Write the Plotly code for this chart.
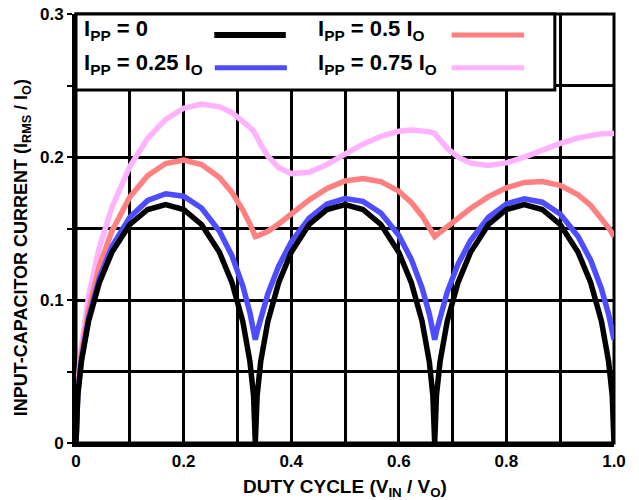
import plotly.graph_objects as go

# ---- data ----
duty = [0, 0.0033, 0.01, 0.0233, 0.0433, 0.0667, 0.1, 0.1333, 0.1667, 0.2, 0.2333, 0.2667, 0.29, 0.31, 0.3233, 0.33, 0.3333,
        0.3367, 0.3433, 0.3567, 0.3767, 0.4, 0.4333, 0.4667, 0.5, 0.5333, 0.5667, 0.6, 0.6233, 0.6433, 0.6567, 0.6633, 0.6667,
        0.67, 0.6767, 0.69, 0.71, 0.7333, 0.7667, 0.8, 0.8333, 0.8667, 0.9, 0.9333, 0.9567, 0.9767, 0.99, 0.9967, 1.0]

i_pp_0 = [0, 0.0332, 0.0569, 0.0851, 0.1121, 0.1333, 0.1528, 0.1633, 0.1667, 0.1633, 0.1528, 0.1333, 0.1121, 0.0851, 0.0569, 0.0332, 0,
          0.0332, 0.0569, 0.0851, 0.1121, 0.1333, 0.1528, 0.1633, 0.1667, 0.1633, 0.1528, 0.1333, 0.1121, 0.0851, 0.0569, 0.0332, 0,
          0.0332, 0.0569, 0.0851, 0.1121, 0.1333, 0.1528, 0.1633, 0.1667, 0.1633, 0.1528, 0.1333, 0.1121, 0.0851, 0.0569, 0.0332, 0]

i_pp_025 = [0, 0.0339, 0.0582, 0.0872, 0.1151, 0.1372, 0.1578, 0.1696, 0.1743, 0.1726, 0.1643, 0.1481, 0.1308, 0.1099, 0.0910, 0.0791, 0.0722,
            0.0778, 0.0878, 0.1044, 0.1237, 0.1405, 0.1572, 0.1671, 0.1710, 0.1690, 0.1608, 0.1452, 0.1284, 0.1083, 0.0902, 0.0788, 0.0722,
            0.0781, 0.0886, 0.1056, 0.1250, 0.1416, 0.1579, 0.1672, 0.1707, 0.1684, 0.1601, 0.1444, 0.1278, 0.1078, 0.0899, 0.0787, 0.0722]

i_pp_05 = [0, 0.0362, 0.0621, 0.0932, 0.1236, 0.1481, 0.1720, 0.1871, 0.1954, 0.1979, 0.1947, 0.1856, 0.1752, 0.1631, 0.1531, 0.1474, 0.1443,
           0.1446, 0.1455, 0.1480, 0.1532, 0.1602, 0.1700, 0.1780, 0.1832, 0.1850, 0.1828, 0.1761, 0.1682, 0.1588, 0.1511, 0.1467, 0.1443,
           0.1453, 0.1473, 0.1513, 0.1573, 0.1640, 0.1723, 0.1785, 0.1822, 0.1829, 0.1802, 0.1735, 0.1661, 0.1575, 0.1505, 0.1465, 0.1443]

i_pp_075 = [0, 0.0396, 0.0681, 0.1025, 0.1366, 0.1648, 0.1934, 0.2131, 0.2263, 0.2341, 0.2370, 0.2351, 0.2310, 0.2255, 0.2207, 0.2180, 0.2165,
            0.2138, 0.2087, 0.2006, 0.1925, 0.1884, 0.1893, 0.1948, 0.2020, 0.2090, 0.2145, 0.2180, 0.2189, 0.2185, 0.2176, 0.2169, 0.2165,
            0.2148, 0.2116, 0.2061, 0.2000, 0.1957, 0.1940, 0.1959, 0.1999, 0.2048, 0.2095, 0.2134, 0.2153, 0.2163, 0.2165, 0.2165, 0.2165]

x_tick_vals = [0, 0.2, 0.4, 0.6, 0.8, 1.0]
x_tick_text = ["0", "0.2", "0.4", "0.6", "0.8", "1.0"]
x_minor_vals = [0.1, 0.3, 0.5, 0.7, 0.9]
y_tick_vals = [0, 0.1, 0.2, 0.3]
y_tick_text = ["0", "0.1", "0.2", "0.3"]
y_minor_vals = [0.05, 0.15, 0.25]

series_names = ["I<sub>PP</sub> = 0", "I<sub>PP</sub> = 0.25 I<sub>O</sub>",
                "I<sub>PP</sub> = 0.5 I<sub>O</sub>", "I<sub>PP</sub> = 0.75 I<sub>O</sub>"]
series_values = [i_pp_0, i_pp_025, i_pp_05, i_pp_075]
colors = ["#000000", "#4d4dff", "#ff8080", "#ffb3ff"]

FONT = "Liberation Sans, Arial, Helvetica, sans-serif"

fig = go.Figure()
# draw in order so black sits on top (as in the reference)
for idx in [3, 2, 1, 0]:
    fig.add_trace(go.Scatter(x=duty, y=series_values[idx], mode="lines", name=series_names[idx],
                             line=dict(color=colors[idx], width=5.5), hoverinfo="skip"))

fig.update_layout(
    width=639, height=500,
    margin=dict(l=76, r=25, t=14, b=57),
    plot_bgcolor="white", paper_bgcolor="white",
    showlegend=False,
    font=dict(family=FONT, color="black", size=17, weight="bold"),
)
fig.update_xaxes(
    range=[0, 1], tickmode="array", tickvals=x_tick_vals, ticktext=x_tick_text,
    showgrid=True, gridcolor="black", gridwidth=2.5, zeroline=False, automargin=False,
    showline=True, linecolor="black", linewidth=4, ticks="",
    minor=dict(tickmode="array", tickvals=x_minor_vals, showgrid=True, gridcolor="black", gridwidth=2.5, ticks=""),
    tickfont=dict(size=17, family=FONT, weight="bold"),
    title=dict(text="DUTY CYCLE (V<sub>IN</sub> / V<sub>O</sub>)", font=dict(size=19, family=FONT, weight="bold"), standoff=10),
)
fig.update_yaxes(
    range=[0, 0.3], tickmode="array", tickvals=y_tick_vals, ticktext=y_tick_text,
    showgrid=True, gridcolor="black", gridwidth=2.5, zeroline=False, automargin=False,
    showline=True, linecolor="black", linewidth=4, ticks="outside", ticklen=5, tickwidth=2, tickcolor="black",
    minor=dict(tickmode="array", tickvals=y_minor_vals, showgrid=True, gridcolor="black", gridwidth=2.5,
               ticks="outside", ticklen=5, tickwidth=2, tickcolor="black"),
    tickfont=dict(size=17, family=FONT, weight="bold"),
)

# y-axis title as a rotated annotation, nudged down to sit centred on the plot area like the reference
fig.add_annotation(xref="paper", yref="paper", x=-0.099, y=0.5, xanchor="center", yanchor="middle",
                   textangle=-90, showarrow=False, yshift=-19,
                   text="INPUT-CAPACITOR CURRENT (I<sub>RMS</sub> / I<sub>O</sub>)",
                   font=dict(size=18, family=FONT, color="black", weight="bold"))

# plot frame (top / right edges)
fig.add_shape(type="rect", xref="paper", yref="paper", x0=0, x1=1, y0=0, y1=1,
              line=dict(color="black", width=3), fillcolor="rgba(0,0,0,0)", layer="below")

# custom legend box: label text first, line sample after
fig.add_shape(type="rect", xref="paper", yref="paper", x0=0, x1=0.89, y0=0.823, y1=1.0,
              line=dict(color="black", width=3), fillcolor="white", layer="above")

leg_text_x = [0.011, 0.011, 0.446, 0.446]
leg_text_y = [0.962, 0.884, 0.962, 0.884]
leg_line_x0 = [0.257, 0.258, 0.698, 0.698]
leg_line_x1 = [0.390, 0.392, 0.833, 0.833]
leg_line_y = [0.951, 0.875, 0.951, 0.875]
leg_line_w = [6, 5, 5, 5]
for k in range(4):
    fig.add_annotation(xref="paper", yref="paper", x=leg_text_x[k], y=leg_text_y[k],
                       xanchor="left", yanchor="middle", showarrow=False, text=series_names[k],
                       font=dict(size=22, family=FONT, color="black", weight="bold"))
    fig.add_shape(type="line", xref="paper", yref="paper", x0=leg_line_x0[k], x1=leg_line_x1[k],
                  y0=leg_line_y[k], y1=leg_line_y[k], line=dict(color=colors[k], width=leg_line_w[k]),
                  layer="above")

fig.write_html("out.html", config={"displayModeBar": False},
               post_script="document.body.style.margin='0px';")
